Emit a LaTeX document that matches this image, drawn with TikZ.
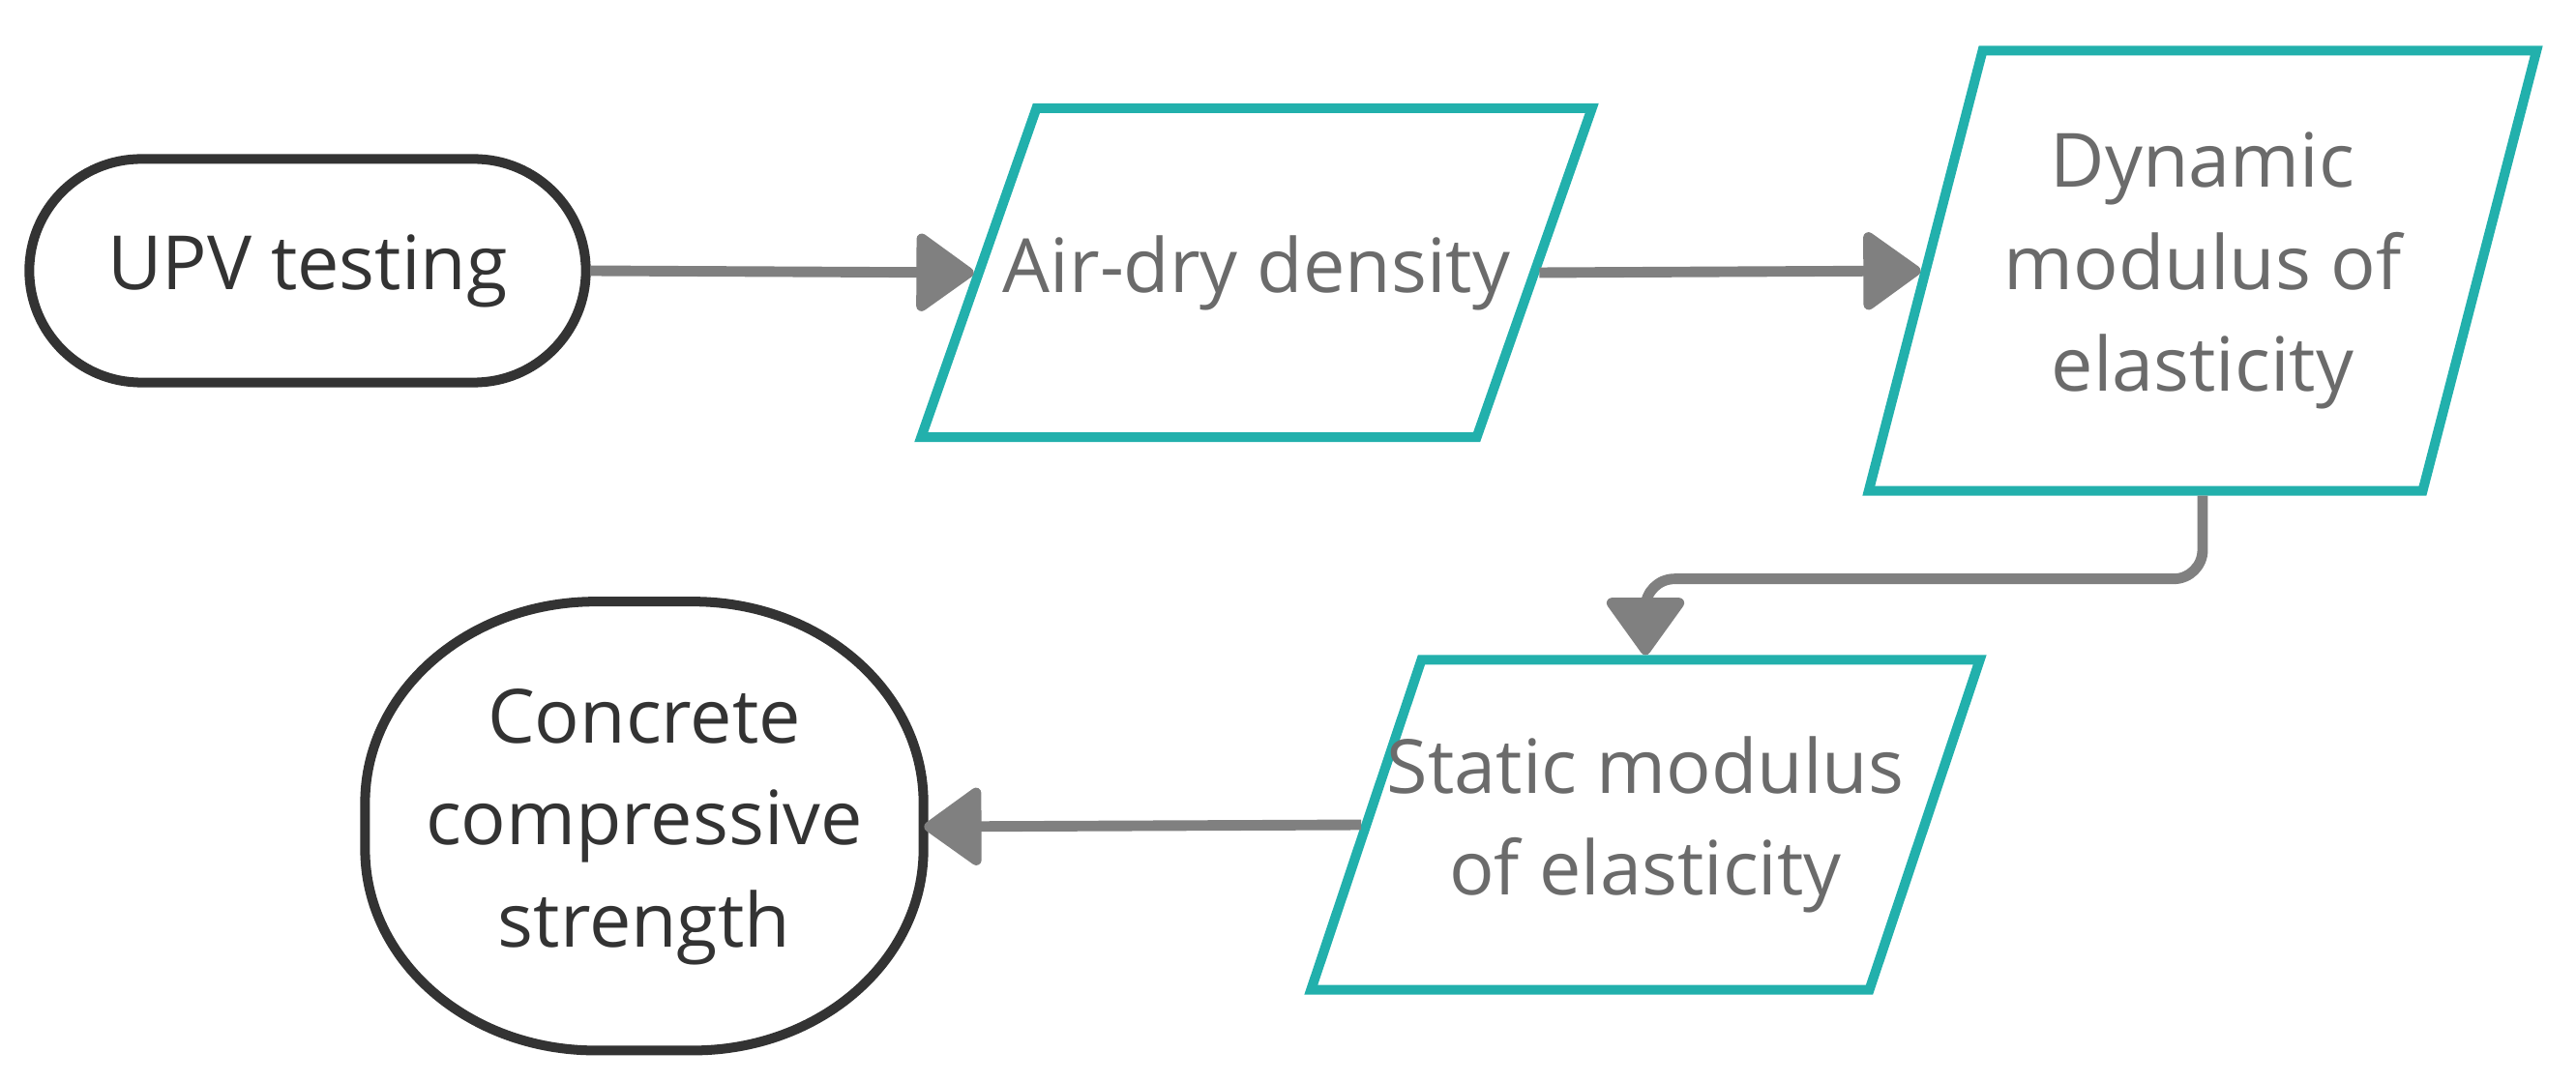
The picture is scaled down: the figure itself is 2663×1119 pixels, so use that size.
\documentclass[tikz,border=0pt]{standalone}
\usepackage{fontspec}
\setmainfont{Open Sans}
\usetikzlibrary{shapes.geometric,arrows.meta,calc}
\definecolor{tealc}{HTML}{22B0AC}
\definecolor{connc}{HTML}{808080}
\definecolor{darktxt}{HTML}{333333}
\definecolor{midtxt}{HTML}{6B6B6B}
\begin{document}
\begin{tikzpicture}[x=0.01cm,y=-0.01cm,
  txt/.style={font=\fontsize{22}{30}\selectfont, align=center},
  termline/.style={draw=darktxt, line width=2.85pt},
  term/.style={txt, termline, text=darktxt},
  para/.style={draw=tealc, line width=2.85pt, trapezium, trapezium stretches body, inner xsep=0pt},
  ptext/.style={txt, text=midtxt},
  flow/.style={draw=connc, line width=3.1pt, -{Triangle[length=18pt,width=25pt,round]}},
  crn/.style={x radius=2.38cm, y radius=2.08cm}
]
\useasboundingbox (0,0) rectangle (2663,1119);

\node[term, minimum width=5.75cm, minimum height=2.31cm, rounded corners=1.155cm] (upv) at (318,280) {UPV testing};

\node[para, trapezium left angle=70.7, trapezium right angle=109.3, inner ysep=1.70cm, minimum width=6.93cm] (p1) at (1299,282) {};
\node[ptext] (p1t) at (p1.center) {Air-dry density};

\node[para, trapezium left angle=75.5, trapezium right angle=104.5, inner ysep=2.275cm, minimum width=6.90cm] (p2) at (2277,280) {};
\node[ptext] (p2t) at (p2.center) {Dynamic\\modulus of\\elasticity};

\node[para, trapezium left angle=71.5, trapezium right angle=108.5, inner ysep=1.705cm, minimum width=6.91cm] (p3) at (1701,853) {};
\node[ptext] (p3t) at (p3.center) {Static modulus\\of elasticity};

\node[txt, text=darktxt, minimum width=5.77cm, minimum height=4.64cm] (ccs) at (666,855) {Concrete\\compressive\\strength};
\draw[termline] ([xshift=0.505cm]ccs.north)
  arc[start angle=90, end angle=0, crn] -- ++(0,48)
  arc[start angle=0, end angle=-90, crn] -- ++(-101,0)
  arc[start angle=-90, end angle=-180, crn] -- ++(0,-48)
  arc[start angle=180, end angle=90, crn] -- cycle;

\draw[flow] (upv.east) -- (p1.west);
\draw[flow] (p1.east) -- (p2.west);
\draw[flow, rounded corners=0.3cm] (p2.center |- p2.south) -- ++(0,86) -| (p3.center |- p3.north);
\draw[flow] (p3.west) -- (ccs.east);
\end{tikzpicture}
\end{document}
